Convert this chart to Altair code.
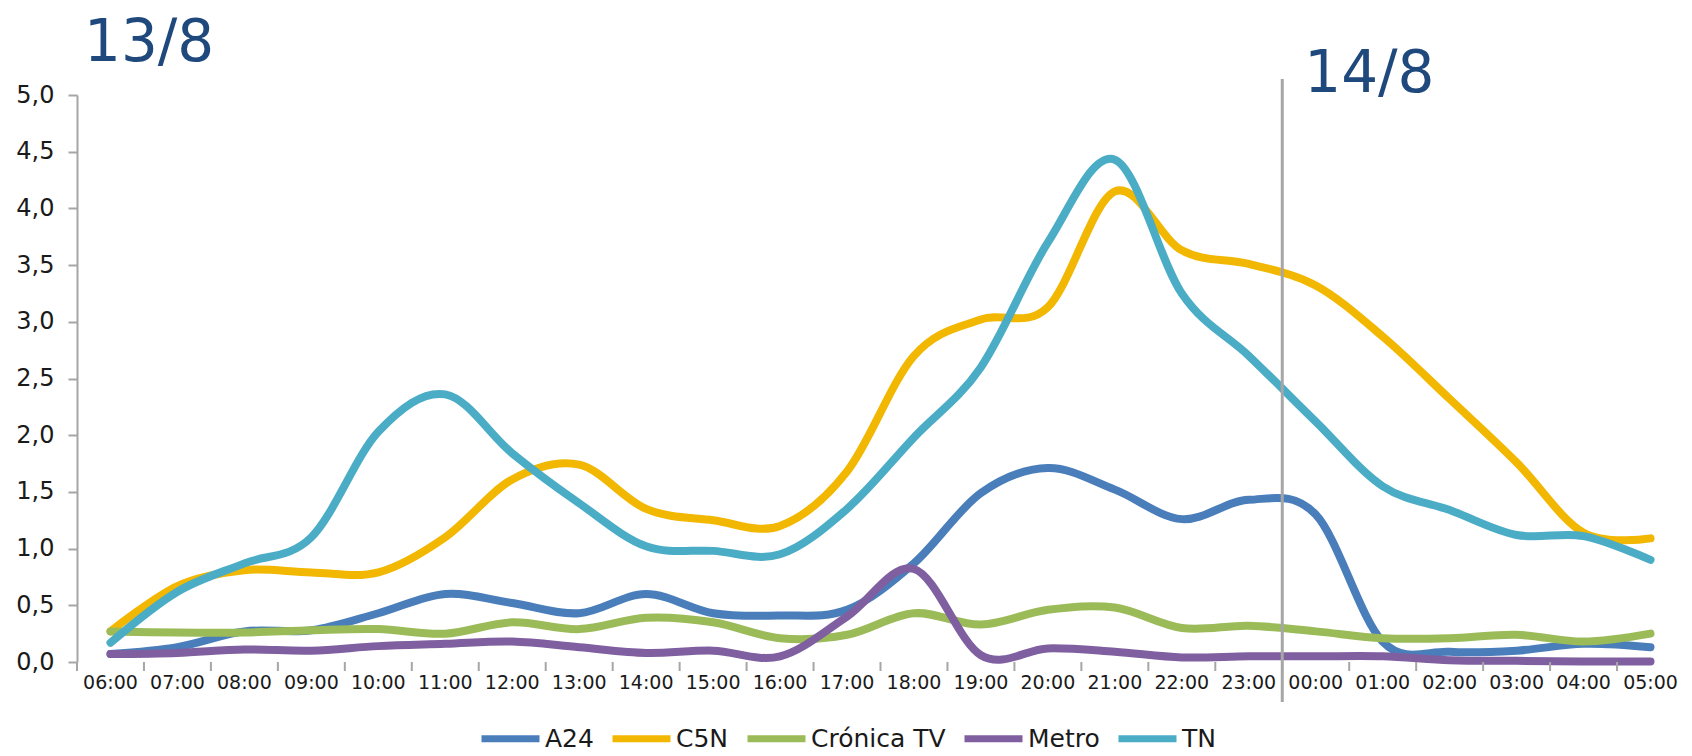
import altair as alt
import pandas as pd

hours = ["06:00", "07:00", "08:00", "09:00", "10:00", "11:00", "12:00", "13:00",
         "14:00", "15:00", "16:00", "17:00", "18:00", "19:00", "20:00", "21:00",
         "22:00", "23:00", "00:00", "01:00", "02:00", "03:00", "04:00", "05:00"]

a24 = [0.07, 0.13, 0.27, 0.28, 0.43, 0.60, 0.52, 0.43, 0.60, 0.43, 0.41, 0.46,
       0.87, 1.49, 1.71, 1.52, 1.26, 1.43, 1.30, 0.18, 0.09, 0.10, 0.16, 0.13]
c5n = [0.27, 0.67, 0.81, 0.79, 0.79, 1.10, 1.61, 1.74, 1.35, 1.25, 1.20, 1.68,
       2.70, 3.02, 3.13, 4.15, 3.63, 3.51, 3.32, 2.87, 2.32, 1.76, 1.14, 1.09]
cronica = [0.27, 0.26, 0.26, 0.28, 0.29, 0.25, 0.35, 0.29, 0.39, 0.35, 0.21, 0.24,
           0.43, 0.33, 0.46, 0.48, 0.30, 0.32, 0.27, 0.21, 0.21, 0.24, 0.18, 0.25]
metro = [0.07, 0.08, 0.11, 0.10, 0.14, 0.16, 0.18, 0.13, 0.08, 0.10, 0.05, 0.40,
         0.82, 0.06, 0.12, 0.09, 0.04, 0.05, 0.05, 0.05, 0.015, 0.01, 0.005, 0.005]
tn = [0.17, 0.62, 0.87, 1.10, 2.03, 2.36, 1.84, 1.40, 1.02, 0.98, 0.95, 1.35,
      1.98, 2.60, 3.70, 4.43, 3.25, 2.70, 2.12, 1.55, 1.34, 1.12, 1.11, 0.90]

series_names = ["A24", "C5N", "Crónica TV", "Metro", "TN"]
series_values = [a24, c5n, cronica, metro, tn]
series_colors = ["#4A7EBB", "#F2B700", "#9BBB59", "#7F5FA0", "#4BACC6"]
y_ticks = [0, 0.5, 1.0, 1.5, 2.0, 2.5, 3.0, 3.5, 4.0, 4.5, 5.0]
day1_label = "13/8"
day2_label = "14/8"
day2_start = "00:00"

rows = []
for name, vals in zip(series_names, series_values):
    for h, v in zip(hours, vals):
        rows.append({"hora": h, "canal": name, "valor": v})
df = pd.DataFrame(rows)
hours_df = pd.DataFrame({"hora": hours})
day2_df = pd.DataFrame({"hora": [day2_start], "label": [day2_label]})

W, H = 1607, 567
FONT = "DejaVu Sans"
GRAY = "#A6A6A6"
TEXT = "#1a1a1a"
TITLE_COLOR = "#1F497D"

xscale = alt.Scale(type="band", domain=hours, paddingInner=0, paddingOuter=0)

lines = alt.Chart(df).mark_line(
    interpolate="cardinal", strokeWidth=8, strokeCap="round", strokeJoin="round"
).encode(
    x=alt.X("hora:N", scale=xscale, bandPosition=0.5,
            axis=alt.Axis(title=None, labels=False, ticks=False,
                          domainColor=GRAY, domainWidth=2)),
    y=alt.Y("valor:Q", scale=alt.Scale(domain=[0, 5], nice=False, zero=True),
            axis=alt.Axis(title=None, values=y_ticks, grid=False,
                          labelExpr="replace(format(datum.value, '.1f'), '.', ',')",
                          labelFontSize=24, labelFont=FONT, labelColor=TEXT,
                          labelPadding=14, tickSize=9, tickWidth=2, tickColor=GRAY,
                          domainColor=GRAY, domainWidth=2)),
    color=alt.Color("canal:N",
                    scale=alt.Scale(domain=series_names, range=series_colors),
                    legend=alt.Legend(orient="none", legendX=401, legendY=611,
                                      direction="horizontal", columns=5, title=None,
                                      symbolType="stroke", symbolSize=3364,
                                      symbolStrokeWidth=7, labelFontSize=25,
                                      labelFont=FONT, labelColor=TEXT,
                                      labelOffset=2, columnPadding=4)),
    order=alt.Order("canal:N")
)

ticks = alt.Chart(hours_df).mark_rule(color=GRAY, strokeWidth=2).encode(
    x=alt.X("hora:N", scale=xscale, bandPosition=0, axis=None),
    y=alt.value(H),
    y2=alt.value(H + 9),
)

xlabels = alt.Chart(hours_df).mark_text(
    baseline="top", align="center", fontSize=19, font=FONT, color=TEXT
).encode(
    x=alt.X("hora:N", scale=xscale, bandPosition=0.5, axis=None),
    y=alt.value(H + 12),
    text="hora:N",
)

divider = alt.Chart(day2_df).mark_rule(color=GRAY, strokeWidth=3).encode(
    x=alt.X("hora:N", scale=xscale, bandPosition=0, axis=None),
    y=alt.value(-16),
    y2=alt.value(H + 40),
)

day2_text = alt.Chart(day2_df).mark_text(
    align="left", baseline="alphabetic", fontSize=58, font=FONT,
    color=TITLE_COLOR, dx=22
).encode(
    x=alt.X("hora:N", scale=xscale, bandPosition=0, axis=None),
    y=alt.value(-3),
    text="label:N",
)

day1_text = alt.Chart(pd.DataFrame({"label": [day1_label]})).mark_text(
    align="left", baseline="alphabetic", fontSize=58, font=FONT,
    color=TITLE_COLOR
).encode(
    x=alt.value(7),
    y=alt.value(-34),
    text="label:N",
)

chart = alt.layer(lines, ticks, xlabels, divider, day2_text, day1_text).properties(
    width=W, height=H,
    padding={"left": 69, "top": 87, "right": 0, "bottom": 94},
    autosize=alt.AutoSizeParams(type="none"),
).configure(background="white", view=alt.ViewConfig(stroke=None))

chart.save("out.html", embed_options={"renderer": "svg", "actions": False})
